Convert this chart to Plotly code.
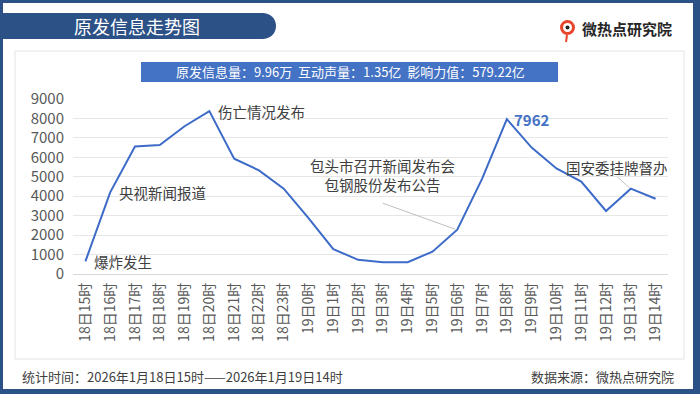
import math
import plotly.graph_objects as go

# ---------------- data ----------------
hours = ["18日15时", "18日16时", "18日17时", "18日18时", "18日19时", "18日20时",
         "18日21时", "18日22时", "18日23时", "19日0时", "19日1时", "19日2时",
         "19日3时", "19日4时", "19日5时", "19日6时", "19日7时", "19日8时",
         "19日9时", "19日10时", "19日11时", "19日12时", "19日13时", "19日14时"]
counts = [650, 4200, 6560, 6630, 7600, 8380, 5930, 5330, 4390, 2870, 1280, 730,
          610, 610, 1150, 2280, 4890, 7962, 6500, 5430, 4750, 3240, 4390, 3870]
y_ticks = [0, 1000, 2000, 3000, 4000, 5000, 6000, 7000, 8000, 9000]

title_text = "原发信息走势图"
stats_text = "原发信息量：9.96万  互动声量：1.35亿  影响力值：579.22亿"
footer_left = "统计时间：2026年1月18日15时——2026年1月19日14时"
footer_right = "数据来源：微热点研究院"
logo_text = "微热点研究院"

# ---------------- layout geometry ----------------
W, H = 700, 394
L, R, T, B = 73, 668, 99, 274  # plot area in pixels


def px(x):
    return (x - L) / (R - L)


def py(y):
    return (B - y) / (B - T)


FONT = "Noto Sans CJK SC, Microsoft YaHei, sans-serif"
DARK = "#2C5186"
LINE = "#3D6BC8"

idx = list(range(len(hours)))

fig = go.Figure()
fig.add_trace(go.Scatter(
    x=idx, y=counts, mode="lines",
    line=dict(color=LINE, width=2),
    hoverinfo="x+y", showlegend=False,
))

shapes = []
# white page inside the dark frame
shapes.append(dict(type="rect", xref="paper", yref="paper",
                   x0=px(3), x1=px(693), y0=py(389), y1=py(3),
                   fillcolor="white", line=dict(width=0), layer="below"))
# inner panel
shapes.append(dict(type="rect", xref="paper", yref="paper",
                   x0=px(15), x1=px(684), y0=py(359), y1=py(51),
                   fillcolor="white", line=dict(color="#E3E3E3", width=1), layer="below"))
# title tab with rounded right end
r = 13
cx, cy = 263, 26
pts = [(0, 13), (cx, 13)]
for k in range(1, 20):
    a = -math.pi / 2 + math.pi * k / 20
    pts.append((cx + r * math.cos(a), cy + r * math.sin(a)))
pts += [(cx, 39), (0, 39)]
path = "M " + " L ".join(f"{px(a):.5f},{py(b):.5f}" for a, b in pts) + " Z"
shapes.append(dict(type="path", xref="paper", yref="paper", path=path,
                   fillcolor=DARK, line=dict(width=0), layer="below"))
# stats bar
shapes.append(dict(type="rect", xref="paper", yref="paper",
                   x0=px(141), x1=px(558), y0=py(82), y1=py(62),
                   fillcolor="#4472C4", line=dict(width=0), layer="below"))
# logo icon
shapes.append(dict(type="circle", xref="paper", yref="paper",
                   x0=px(560), x1=px(575), y0=py(35), y1=py(20),
                   fillcolor="#E8452C", line=dict(width=0)))
shapes.append(dict(type="circle", xref="paper", yref="paper",
                   x0=px(563), x1=px(572), y0=py(32), y1=py(23),
                   fillcolor="white", line=dict(width=0)))
shapes.append(dict(type="circle", xref="paper", yref="paper",
                   x0=px(565.5), x1=px(569.5), y0=py(29.5), y1=py(25.5),
                   fillcolor="#222222", line=dict(width=0)))
shapes.append(dict(type="line", xref="paper", yref="paper",
                   x0=px(567), x1=px(566), y0=py(35), y1=py(42),
                   line=dict(color="#E8452C", width=2)))
# leader lines
shapes.append(dict(type="line", xref="x", yref="y", x0=12.0, y0=3640, x1=14.92, y1=2300,
                   line=dict(color="#BFBFBF", width=1)))
shapes.append(dict(type="line", xref="x", yref="y", x0=21.47, y0=4980, x1=21.95, y1=4430,
                   line=dict(color="#BFBFBF", width=1)))

ann = []


def label(i, text, shift=7, size=14.5, color="#404040", bold=False):
    ann.append(dict(x=i, y=counts[i], xref="x", yref="y",
                    text=f"<b>{text}</b>" if bold else text,
                    showarrow=False, xanchor="left", yanchor="middle", xshift=shift,
                    font=dict(family=FONT, size=size, color=color)))


label(0, "爆炸发生")
label(1, "央视新闻报道")
label(5, "伤亡情况发布")
label(17, "7962", shift=5, size=15, color="#4472C4", bold=True)

ann.append(dict(x=12, y=5070, xref="x", yref="y", text="包头市召开新闻发布会<br>包钢股份发布公告",
                showarrow=False, xanchor="center", yanchor="middle", align="center",
                font=dict(family=FONT, size=14.5, color="#404040")))
ann.append(dict(x=21.46, y=5500, xref="x", yref="y", text="国安委挂牌督办",
                showarrow=False, xanchor="center", yanchor="middle",
                font=dict(family=FONT, size=14.5, color="#404040")))

# header / footer texts
ann.append(dict(x=px(137), y=py(26), xref="paper", yref="paper", text=title_text,
                showarrow=False, xanchor="center", yanchor="middle",
                font=dict(family=FONT, size=18, color="white")))
ann.append(dict(x=px(350), y=py(72), xref="paper", yref="paper", text=stats_text,
                showarrow=False, xanchor="center", yanchor="middle",
                font=dict(family=FONT, size=13, color="white")))
ann.append(dict(x=px(580), y=py(28), xref="paper", yref="paper", text=f"<b>{logo_text}</b>",
                showarrow=False, xanchor="left", yanchor="middle",
                font=dict(family=FONT, size=15, color="#262626")))
ann.append(dict(x=px(20), y=py(376), xref="paper", yref="paper", text=footer_left,
                showarrow=False, xanchor="left", yanchor="middle",
                font=dict(family=FONT, size=13, color="#404040")))
ann.append(dict(x=px(676), y=py(376), xref="paper", yref="paper", text=footer_right,
                showarrow=False, xanchor="right", yanchor="middle",
                font=dict(family=FONT, size=13, color="#404040")))

fig.update_layout(
    width=W, height=H,
    margin=dict(l=L, r=W - R, t=T, b=H - B, pad=0),
    paper_bgcolor=DARK,
    plot_bgcolor="rgba(0,0,0,0)",
    shapes=shapes,
    annotations=ann,
    font=dict(family=FONT),
    xaxis=dict(
        range=[-0.5, len(hours) - 0.5],
        tickmode="array", tickvals=idx, ticktext=hours,
        tickangle=-90, showgrid=False, zeroline=False, showline=False,
        ticks="", ticklen=0, ticklabelstandoff=5,
        tickfont=dict(family=FONT, size=14, color="#595959"),
        fixedrange=True,
    ),
    yaxis=dict(
        range=[0, 9000],
        tickmode="array", tickvals=y_ticks,
        showgrid=True, gridcolor="#E6E6E6", gridwidth=1,
        zeroline=True, zerolinecolor="#D9D9D9", zerolinewidth=1,
        showline=False, ticks="", ticklabelstandoff=8,
        tickfont=dict(family=FONT, size=15, color="#595959"),
        fixedrange=True,
    ),
)

fig.write_html("out.html", config={"displayModeBar": False},
               post_script="document.body.style.margin='0';document.body.style.overflow='hidden';")
